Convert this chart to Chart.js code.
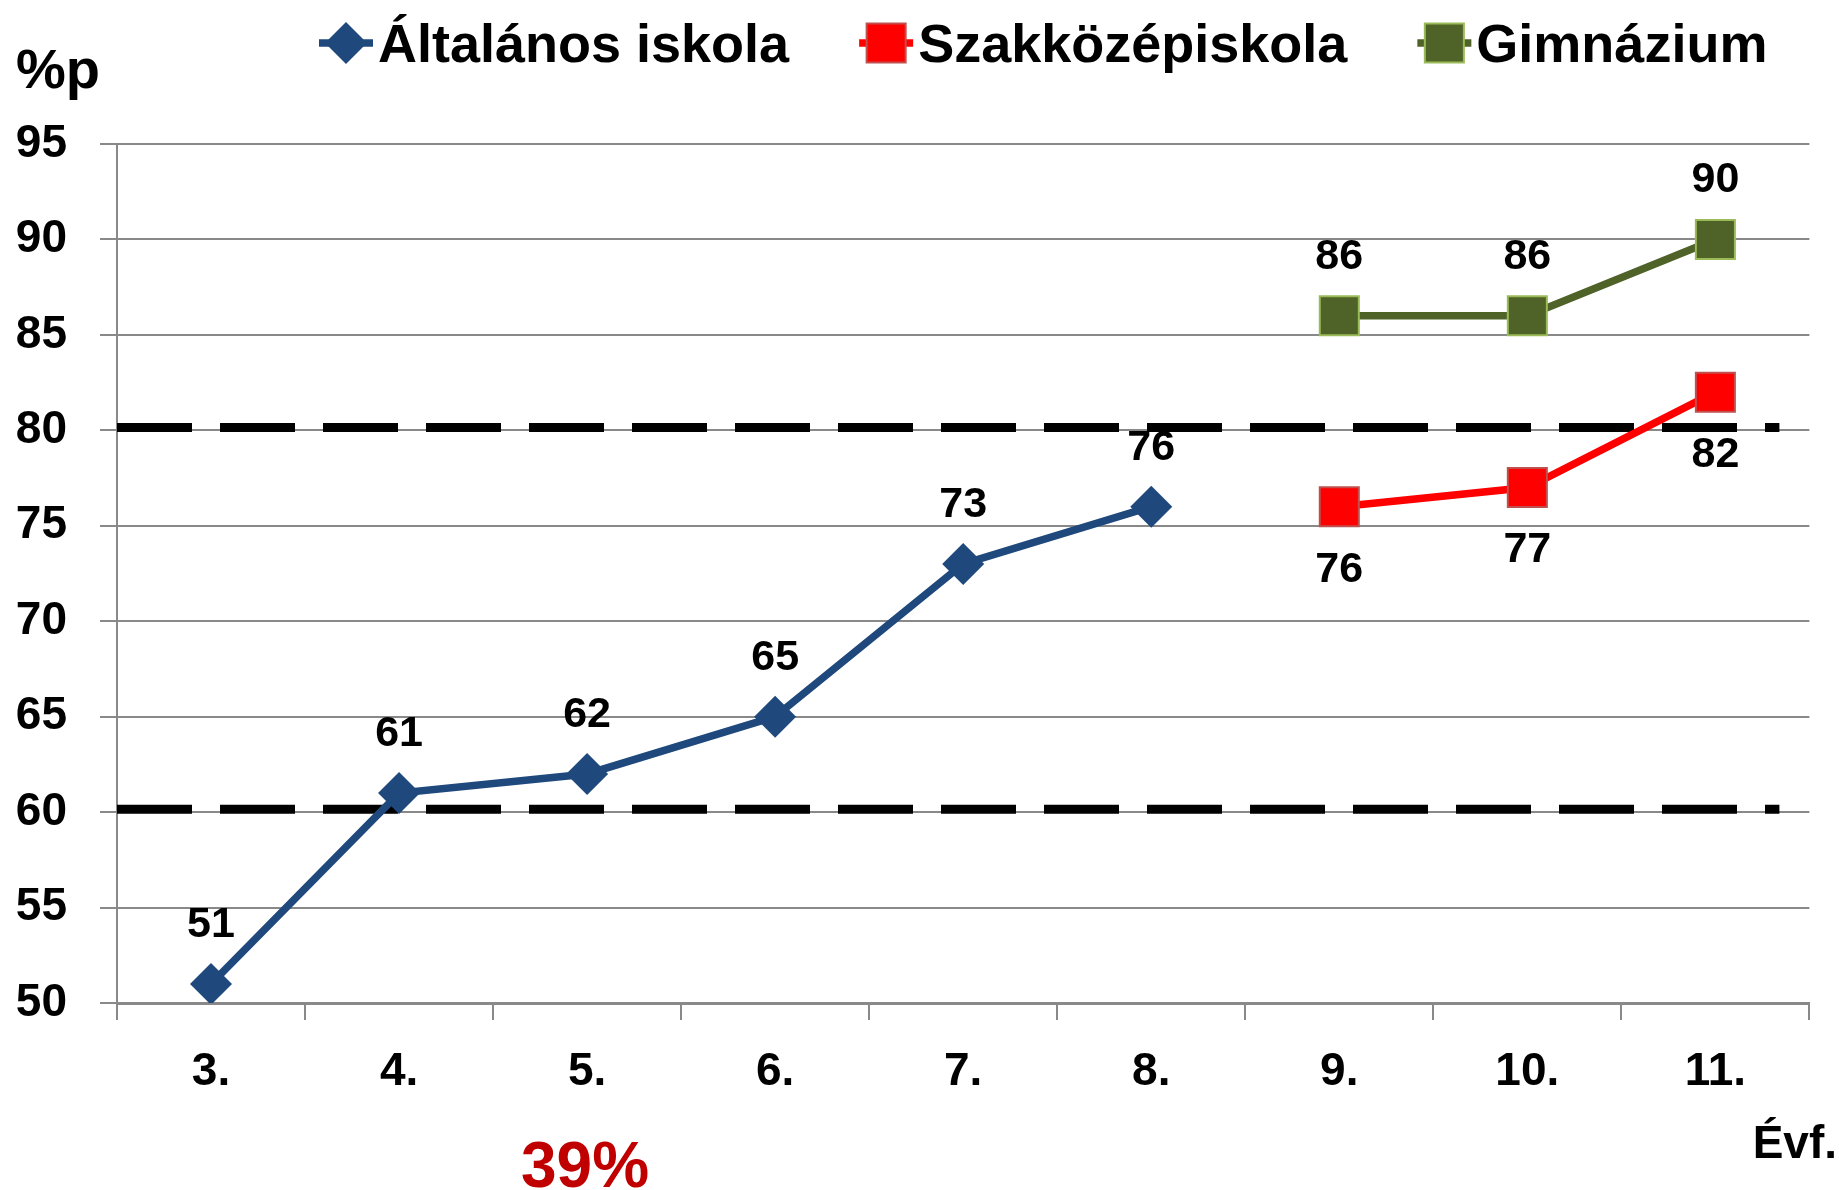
<!DOCTYPE html>
<html>
<head>
<meta charset="utf-8">
<script src="https://cdn.jsdelivr.net/npm/chart.js@4.4.1/dist/chart.umd.min.js"></script>
<style>
    html, body { margin: 0; padding: 0; background: #fff; }
    #wrap { width: 1839px; height: 1190px; position: relative; }
</style>
</head>
<body>
<div id="wrap"><canvas id="GradeChart" width="1839" height="1190"></canvas></div>
<script>
// grades on the x axis
var grades = ["3.", "4.", "5.", "6.", "7.", "8.", "9.", "10.", "11."];
// series values (%p)
var altalanos = [51, 61, 62, 65, 73, 76, null, null, null];
var szakkozep = [null, null, null, null, null, null, 76, 77, 82];
var gimnazium = [null, null, null, null, null, null, 86, 86, 90];
var seriesNames = ["Általános iskola", "Szakközépiskola", "Gimnázium"];
// y axis
var yMin = 50, yMax = 95, yStep = 5;
// dashed limit lines
var limitLines = [80.15, 60.15];

var FONT = "'Liberation Sans', Arial, sans-serif";

window.onload = function () {
    var ctx = document.getElementById("GradeChart").getContext('2d');
    this.GradeChart = createChart(ctx);
}

// dashed black lines at the limits, under the series
var limitPlugin = {
    id: 'limitLines',
    beforeDatasetsDraw: function (chart) {
        var c = chart.ctx, area = chart.chartArea, y = chart.scales.y;
        c.save();
        c.strokeStyle = '#000';
        c.lineWidth = 9;
        c.setLineDash([75, 28]);
        limitLines.forEach(function (v) {
            var py = y.getPixelForValue(v);
            c.beginPath();
            c.moveTo(area.left, py);
            c.lineTo(area.right - 30, py);
            c.stroke();
        });
        c.restore();
    }
};

// value labels above / below the points
var valueLabelPlugin = {
    id: 'valueLabels',
    afterDatasetsDraw: function (chart) {
        var c = chart.ctx;
        c.save();
        c.font = 'bold 43px ' + FONT;
        c.fillStyle = '#000';
        c.textAlign = 'center';
        c.textBaseline = 'middle';
        chart.data.datasets.forEach(function (ds, i) {
            var meta = chart.getDatasetMeta(i);
            meta.data.forEach(function (pt, j) {
                var v = ds.data[j];
                if (v === null) return;
                var off = ds.labelBelow ? 63 : -59;
                c.fillText(String(v), pt.x, pt.y + off);
            });
        });
        c.restore();
    }
};

// excel style legend, axis titles and the 39% note
var extrasPlugin = {
    id: 'extras',
    afterDraw: function (chart) {
        var c = chart.ctx;
        c.save();
        // legend
        c.font = 'bold 54px ' + FONT;
        c.textBaseline = 'alphabetic';
        var x = 319, cy = 43;
        chart.data.datasets.forEach(function (ds) {
            c.strokeStyle = ds.borderColor;
            c.lineWidth = ds.borderWidth;
            c.beginPath();
            c.moveTo(x, cy);
            c.lineTo(x + 54, cy);
            c.stroke();
            c.fillStyle = ds.pointBackgroundColor;
            c.strokeStyle = ds.pointBorderColor;
            c.lineWidth = ds.pointBorderWidth;
            c.beginPath();
            if (ds.pointStyle === 'rectRot') {
                var r = ds.pointRadius;
                c.moveTo(x + 27, cy - r); c.lineTo(x + 27 + r, cy);
                c.lineTo(x + 27, cy + r); c.lineTo(x + 27 - r, cy);
            } else {
                var s = ds.pointRadius * Math.SQRT1_2;
                c.rect(x + 27 - s, cy - s, 2 * s, 2 * s);
            }
            c.closePath();
            c.fill();
            if (ds.pointBorderWidth) c.stroke();
            c.fillStyle = '#000';
            c.textAlign = 'left';
            c.fillText(ds.label, x + 59, 62);
            x += 59 + c.measureText(ds.label).width + 70;
        });
        // axis titles
        c.font = 'bold 56px ' + FONT;
        c.textAlign = 'left';
        c.fillText('%p', 16, 88);
        c.font = 'bold 46px ' + FONT;
        c.textAlign = 'right';
        c.fillText('Évf.', 1837, 1158);
        c.font = 'bold 64px ' + FONT;
        c.textAlign = 'center';
        c.fillStyle = '#C00000';
        c.fillText('39%', 585, 1187);
        c.restore();
    }
};

function createChart(canvasObj) {
    return new Chart(canvasObj, {
        type: 'line',
        data: {
            labels: grades,
            datasets: [{
                label: seriesNames[0],
                data: altalanos,
                borderColor: '#1F497D',
                borderWidth: 7.5,
                pointStyle: 'rectRot',
                pointRadius: 21,
                pointBackgroundColor: '#1F497D',
                pointBorderColor: '#1F497D',
                pointBorderWidth: 0,
                labelBelow: false
            }, {
                label: seriesNames[1],
                data: szakkozep,
                borderColor: '#FF0000',
                borderWidth: 7.5,
                pointStyle: 'rect',
                pointRadius: 27.6,
                pointBackgroundColor: '#FF0000',
                pointBorderColor: '#C0504D',
                pointBorderWidth: 2,
                labelBelow: true
            }, {
                label: seriesNames[2],
                data: gimnazium,
                borderColor: '#4F6228',
                borderWidth: 7.5,
                pointStyle: 'rect',
                pointRadius: 27.6,
                pointBackgroundColor: '#4F6228',
                pointBorderColor: '#9BBB59',
                pointBorderWidth: 2,
                labelBelow: false
            }]
        },
        options: {
            responsive: false,
            animation: false,
            devicePixelRatio: 1,
            layout: {
                padding: { left: 0, top: 144, right: 27, bottom: 0 }
            },
            elements: {
                line: { tension: 0 },
                point: { hoverRadius: 21 }
            },
            plugins: {
                legend: { display: false },
                tooltip: { enabled: false },
                title: { display: false }
            },
            scales: {
                x: {
                    offset: true,
                    grid: {
                        offset: true,
                        drawOnChartArea: false,
                        tickLength: 17,
                        color: '#898989',
                        lineWidth: 2
                    },
                    border: { color: '#898989', width: 3 },
                    ticks: {
                        color: '#000',
                        padding: 25,
                        font: { family: FONT, size: 46, weight: 'bold' }
                    },
                    afterFit: function (scale) { scale.height = 187; }
                },
                y: {
                    min: yMin,
                    max: yMax,
                    grid: {
                        color: '#898989',
                        lineWidth: 2,
                        tickLength: 17
                    },
                    border: { color: '#898989', width: 2 },
                    ticks: {
                        stepSize: yStep,
                        color: '#000',
                        padding: 33,
                        font: { family: FONT, size: 46, weight: 'bold' }
                    },
                    afterFit: function (scale) { scale.width = 117; }
                }
            }
        },
        plugins: [limitPlugin, valueLabelPlugin, extrasPlugin]
    });
}
</script>
</body>
</html>
